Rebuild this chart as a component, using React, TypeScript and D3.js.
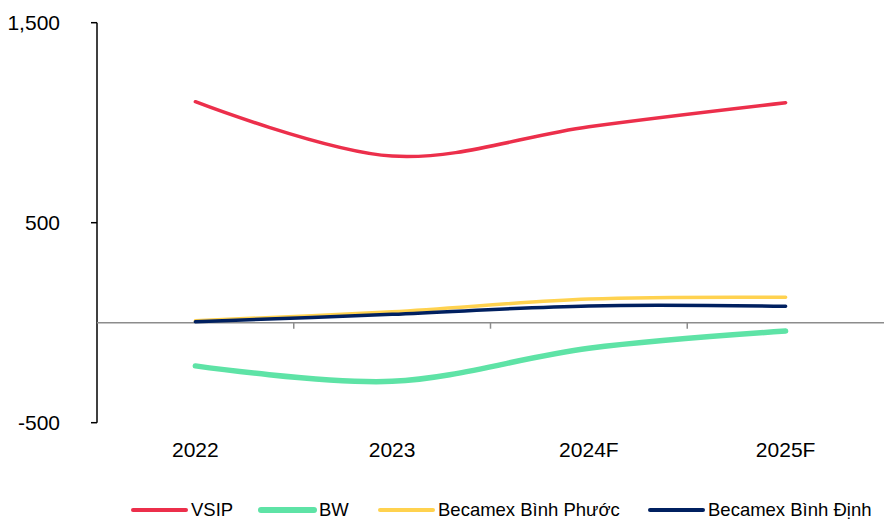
import * as d3 from 'd3';

const YEARS = ['2022', '2023', '2024F', '2025F'];
const VSIP = [1105, 833, 980, 1100];
const BW = [-216, -293, -128, -42];
const BINH_PHUOC = [10, 55, 118, 127];
const BINH_DINH = [5, 42, 84, 82];
const Y_TICKS = [-500, 500, 1500];

const SERIES = [
  { name: 'VSIP', values: VSIP, color: '#EC2F4B', width: 3.5 },
  { name: 'BW', values: BW, color: '#5EE3A6', width: 5.5 },
  { name: 'Becamex Bình Phước', values: BINH_PHUOC, color: '#FFD24F', width: 3.5 },
  { name: 'Becamex Bình Định', values: BINH_DINH, color: '#002060', width: 3.5 },
];

// legend swatch positions follow the reference
const LEGEND_X = [133, 261, 380, 650];

const W = 884;
const H = 520;
const FONT = '"Liberation Sans", Arial, sans-serif';

const fmt = (v: number) => d3.format(',')(v).replace('−', '-');

export default function App() {
  const x = d3.scaleBand<string>().domain(YEARS).range([97, 884]);
  const y = d3.scaleLinear().domain([-500, 1500]).range([422.7, 22.7]);

  const line = d3
    .line<number>()
    .x((_, i) => (x(YEARS[i]) ?? 0) + x.bandwidth() / 2)
    .y((d) => y(d))
    .curve(d3.curveCardinal.tension(0));

  const bounds = YEARS.map((yr) => x(yr) ?? 0).concat([884]);

  return (
    <svg
      width={W}
      height={H}
      style={{ position: 'absolute', left: 0, top: 0, fontFamily: FONT }}
    >
      <rect width={W} height={H} fill="#fff" />

      {/* y axis */}
      <line x1={97} x2={97} y1={y(1500)} y2={y(-500)} stroke="#000" strokeWidth={1.5} />
      {Y_TICKS.map((t) => (
        <g key={t}>
          <line x1={91} x2={97} y1={y(t)} y2={y(t)} stroke="#000" strokeWidth={1.5} />
          <text x={60} y={y(t)} dy="0.35em" textAnchor="end" fontSize={21} fill="#000">
            {fmt(t)}
          </text>
        </g>
      ))}

      {/* zero line with category ticks */}
      <line x1={97} x2={884} y1={y(0)} y2={y(0)} stroke="#8c8c8c" strokeWidth={1.5} />
      {bounds.slice(1, 4).map((b, i) => (
        <line key={i} x1={b} x2={b} y1={y(0)} y2={y(0) + 6} stroke="#8c8c8c" strokeWidth={1.5} />
      ))}

      {/* series */}
      {SERIES.map((s) => (
        <path
          key={s.name}
          d={line(s.values) ?? ''}
          fill="none"
          stroke={s.color}
          strokeWidth={s.width}
          strokeLinecap="round"
        />
      ))}

      {/* x labels */}
      {YEARS.map((yr) => (
        <text
          key={yr}
          x={(x(yr) ?? 0) + x.bandwidth() / 2}
          y={449.5}
          dy="0.35em"
          textAnchor="middle"
          fontSize={21}
          fill="#000"
        >
          {yr}
        </text>
      ))}

      {/* legend */}
      {SERIES.map((s, i) => (
        <g key={s.name} transform={`translate(${LEGEND_X[i]},510)`}>
          <line x1={0} x2={53} stroke={s.color} strokeWidth={s.width + 0.5} strokeLinecap="round" />
          <text x={58} dy="0.35em" fontSize={18.5} fill="#000">
            {s.name}
          </text>
        </g>
      ))}
    </svg>
  );
}
